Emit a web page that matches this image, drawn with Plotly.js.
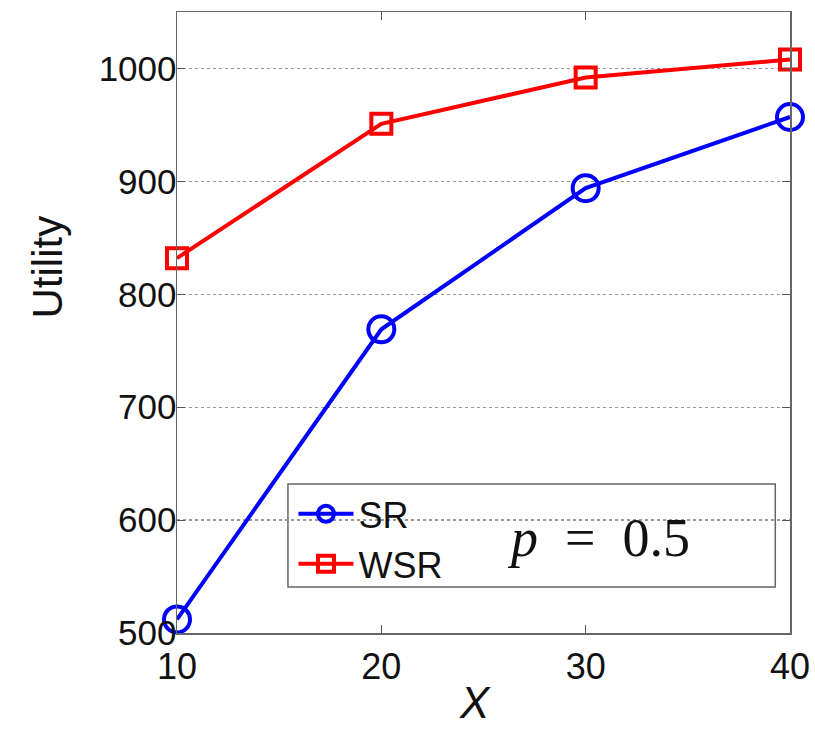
<!DOCTYPE html>
<html><head><meta charset="utf-8">
<script src="https://cdn.plot.ly/plotly-3.0.1.min.js"></script>
<style>body{margin:0;background:#fff}#chart{width:815px;height:730px}</style>
</head><body><div id="chart"></div>
<script>
const xValues = [10, 20, 30, 40];
const srValues = [512, 769, 894, 957];
const wsrValues = [832, 951, 992, 1008];
const yTicks = [500, 600, 700, 800, 900, 1000];
const xTicks = [10, 20, 30, 40];

const traces = [
  {x: xValues, y: srValues, name: 'SR', type: 'scatter', mode: 'lines+markers', cliponaxis: false,
   line: {color: '#0000ff', width: 4},
   marker: {symbol: 'circle-open', size: 26, color: '#0000ff', line: {width: 4, color: '#0000ff'}}},
  {x: xValues, y: wsrValues, name: 'WSR', type: 'scatter', mode: 'lines+markers', cliponaxis: false,
   line: {color: '#ff0000', width: 4},
   marker: {symbol: 'square-open', size: 20, color: '#ff0000', line: {width: 4, color: '#ff0000'}}}
];

const layout = {
  width: 815, height: 730,
  margin: {l: 177, r: 25, t: 12, b: 97},
  paper_bgcolor: '#fff', plot_bgcolor: '#fff',
  font: {family: 'Liberation Sans, Arial, sans-serif', color: '#111'},
  showlegend: true,
  xaxis: {range: [10, 40], tickvals: xTicks, ticktext: xTicks.map(String),
    ticks: 'inside', ticklen: 8, tickcolor: '#555', showline: true, mirror: 'ticks',
    linecolor: '#666', linewidth: 1.5, showgrid: false, zeroline: false,
    tickfont: {size: 36}, ticklabelstandoff: 1},
  yaxis: {range: [500, 1050], tickvals: yTicks, ticktext: yTicks.map(String),
    ticks: 'inside', ticklen: 8, tickcolor: '#555', showline: true, mirror: 'ticks',
    linecolor: '#666', linewidth: 1.5, showgrid: true, gridcolor: '#999', griddash: 'dot', gridwidth: 1.2,
    zeroline: false, tickfont: {size: 35}, ticklabelstandoff: -8},
  legend: {x: 0.19, y: 0.24, xanchor: 'left', yanchor: 'top', bgcolor: 'rgba(0,0,0,0)',
    borderwidth: 0, font: {size: 36}, tracegroupgap: 0, itemwidth: 55},
  shapes: [{type: 'rect', xref: 'paper', yref: 'paper', x0: 0.181, x1: 0.976, y0: 0.074, y1: 0.24,
    line: {color: '#666', width: 1.5}, fillcolor: '#fff', layer: 'between'}],
  annotations: [
    {xref: 'paper', yref: 'paper', x: 0.687, y: 0.153, xanchor: 'center', yanchor: 'middle',
     text: '<i>p</i>\u00a0\u00a0=\u00a0\u00a00.5', showarrow: false,
     font: {family: 'Liberation Serif, DejaVu Serif, serif', size: 54, color: '#111'}},
    {xref: 'paper', yref: 'paper', x: -0.212, y: 0.5886, xanchor: 'center', yanchor: 'middle',
     text: 'Utility', textangle: -90, showarrow: false,
     font: {family: 'Liberation Sans, Arial, sans-serif', size: 42, color: '#111'}},
    {xref: 'paper', yref: 'paper', x: 0.486, y: -0.112, xanchor: 'center', yanchor: 'middle',
     text: '<i>X</i>', showarrow: false,
     font: {family: 'Liberation Sans, Arial, sans-serif', size: 44, color: '#111'}}
  ]
};
Plotly.newPlot('chart', traces, layout, {displayModeBar: false, staticPlot: true});
</script></body></html>
